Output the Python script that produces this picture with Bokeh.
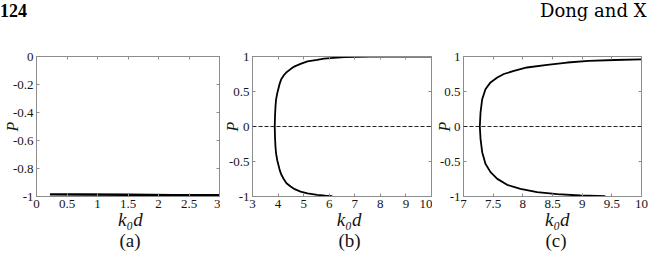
from bokeh.plotting import figure
from bokeh.models import (FixedTicker, CustomJSTickFormatter, LinearAxis, Title,
                          Span, Range1d, Div)
from bokeh.layouts import row, column
from bokeh.embed import file_html
from bokeh.resources import INLINE

FONT = "Liberation Serif"

# ---------------- data ----------------
a_k = [0.22, 0.75, 1.5, 2.25, 3.0]
a_P = [-0.985, -0.986, -0.988, -0.990, -0.991]

b_k = [10.0, 9.0, 8.15, 7.6, 7.1, 6.6, 6.18, 5.8, 5.53, 5.15, 4.88, 4.65, 4.49, 4.33,
       4.22, 4.13, 4.07, 3.97, 3.92, 3.90, 3.88, 3.87, 3.88, 3.90, 3.92, 3.97, 4.07,
       4.13, 4.22, 4.33, 4.49, 4.65, 4.88, 5.15, 5.53, 5.85, 6.12]
b_P = [1.0, 1.0, 1.0, 0.998, 0.995, 0.99, 0.98, 0.97, 0.953, 0.93, 0.895, 0.86, 0.82,
       0.775, 0.73, 0.68, 0.62, 0.48, 0.38, 0.29, 0.15, 0.0, -0.15, -0.295, -0.38,
       -0.486, -0.63, -0.69, -0.75, -0.81, -0.857, -0.895, -0.93, -0.955, -0.976,
       -0.988, -0.996]

c_k = [10.0, 9.55, 9.11, 8.75, 8.41, 8.07, 7.85, 7.68, 7.57, 7.455, 7.37, 7.315,
       7.287, 7.275, 7.287, 7.315, 7.37, 7.455, 7.57, 7.735, 7.96, 8.24, 8.58, 8.97,
       9.39]
c_P = [0.96, 0.95, 0.938, 0.914, 0.88, 0.843, 0.795, 0.75, 0.70, 0.63, 0.533, 0.39,
       0.2, 0.0, -0.176, -0.367, -0.533, -0.652, -0.748, -0.833, -0.89, -0.938,
       -0.967, -0.986, -0.995]

a_xticks = [0, 0.5, 1, 1.5, 2, 2.5, 3]
a_yticks = [-1, -0.8, -0.6, -0.4, -0.2, 0]
b_xticks = [3, 4, 5, 6, 7, 8, 9, 10]
c_xticks = [7, 7.5, 8, 8.5, 9, 9.5, 10]
bc_yticks = [-1, -0.5, 0, 0.5, 1]
ZERO_LEVEL = 0

x_label = "k\u2080d"
y_label = "P"
panel_tags = ["(a)", "(b)", "(c)"]
header_left = "124"
header_right = "Dong and X"

# ---------------- layout constants ----------------
HEADER_H = 26
H = 258 - HEADER_H
TOP = 56 - HEADER_H
BOTTOM = 62
GRAY = "#8c8c8c"
INK = "#151515"
NBSP = "\u00a0"


def style_axis(ax, ticks, labels=True):
    ax.ticker = FixedTicker(ticks=ticks, minor_ticks=[])
    ax.major_tick_in = 3
    ax.major_tick_out = 0
    ax.minor_tick_in = 0
    ax.minor_tick_out = 0
    ax.axis_line_color = GRAY
    ax.major_tick_line_color = GRAY
    if labels:
        ax.formatter = CustomJSTickFormatter(code="return String(tick)")
        ax.major_label_text_font = FONT
        ax.major_label_text_font_size = "13px"
        ax.major_label_text_color = INK
        ax.major_label_standoff = 3
    else:
        ax.formatter = CustomJSTickFormatter(code="return ''")
        ax.major_label_text_font_size = "1px"
        ax.major_label_standoff = 0


def make_panel(width, left, right, xr, yr, xticks, yticks, y_standoff, tag,
               tag_offset, label_pad):
    p = figure(width=width, height=H, x_range=Range1d(*xr), y_range=Range1d(*yr),
               output_backend="svg", toolbar_location=None, title=None,
               min_border_left=left, min_border_right=right,
               min_border_top=TOP, min_border_bottom=BOTTOM)
    p.xgrid.visible = False
    p.ygrid.visible = False
    p.outline_line_color = GRAY
    p.background_fill_color = "white"
    p.border_fill_color = "white"
    xa = p.xaxis[0]
    ya = p.yaxis[0]
    style_axis(xa, xticks)
    style_axis(ya, yticks)
    xa.axis_label = NBSP * label_pad + x_label
    xa.axis_label_text_font = FONT
    xa.axis_label_text_font_size = "19px"
    xa.axis_label_text_font_style = "italic"
    xa.axis_label_text_color = INK
    xa.axis_label_standoff = -2
    ya.axis_label = y_label
    ya.axis_label_text_font = FONT
    ya.axis_label_text_font_size = "16px"
    ya.axis_label_text_font_style = "italic"
    ya.axis_label_text_color = INK
    ya.axis_label_standoff = y_standoff
    top = LinearAxis()
    style_axis(top, xticks, labels=False)
    p.add_layout(top, "above")
    rgt = LinearAxis()
    style_axis(rgt, yticks, labels=False)
    p.add_layout(rgt, "right")
    p.add_layout(Title(text=tag, align="left", offset=tag_offset, text_font=FONT,
                       text_font_size="19px", text_font_style="normal",
                       text_color=INK, standoff=-10), "below")
    return p


# panel (a): frame 36..219
pa = make_panel(220, 36, 1, (0, 3), (-1, 0), a_xticks, a_yticks, -11,
                panel_tags[0], 83, 1)
pa.line(a_k, a_P, line_color="black", line_width=2.4)

# panel (b): frame 252..431
pb = make_panel(212, 32, 1, (3, 10), (-1, 1), b_xticks, bc_yticks, -15,
                panel_tags[1], 86, 3)
pb.add_layout(Span(location=ZERO_LEVEL, dimension="width", line_color="#222222",
                   line_dash="4 2", line_width=1))
pb.line(b_k, b_P, line_color="black", line_width=1.8)

# panel (c): frame 463..641
pc = make_panel(222, 31, 13, (7, 10), (-1, 1), c_xticks, bc_yticks, -16,
                panel_tags[2], 82, 2)
pc.add_layout(Span(location=ZERO_LEVEL, dimension="width", line_color="#222222",
                   line_dash="4 2", line_width=1))
pc.line(c_k, c_P, line_color="black", line_width=1.8)

header_html = (
    '<div style="position:relative;width:654px;height:%dpx;overflow:hidden;'
    'color:#000;">'
    '<span style="position:absolute;left:0px;top:2px;font-family:\'Liberation Serif\';'
    'font-weight:bold;font-size:18px;line-height:18px;white-space:nowrap;">%s</span>'
    '<span style="position:absolute;left:540px;top:2px;font-family:\'DejaVu Serif\';'
    'font-size:18px;line-height:18px;white-space:nowrap;">%s</span>'
    '</div>' % (HEADER_H, header_left, header_right)
)
header = Div(text=header_html, width=654, height=HEADER_H, margin=(0, 0, 0, 0))

layout = column(header, row(pa, pb, pc, spacing=0), spacing=0)
open("out.html", "w").write(file_html(layout, INLINE))
